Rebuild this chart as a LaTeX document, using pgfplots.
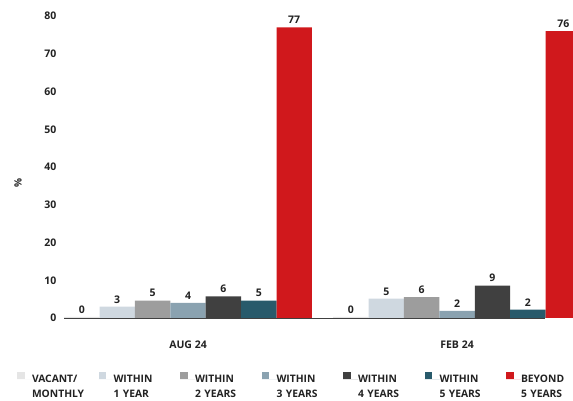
\documentclass[border=0pt]{standalone}
\usepackage{fontspec}
\setmainfont{Open Sans}
\usepackage{pgfplots}
\usepackage{pgfplotstable}
\pgfplotsset{compat=1.18}
\definecolor{cvac}{HTML}{E5E5E5}
\definecolor{cw1}{HTML}{CFD8E0}
\definecolor{cw2}{HTML}{9D9D9D}
\definecolor{cw3}{HTML}{8AA2B0}
\definecolor{cw4}{HTML}{404040}
\definecolor{cw5}{HTML}{285A6B}
\definecolor{cbey}{HTML}{D0181C}
\definecolor{ctxt}{HTML}{222222}
\pgfplotstableread{
x vac vacl w1 w1l w2 w2l w3 w3l w4 w4l w5 w5l bey beyl
0 0.3 0 3.0 3 4.6 5 4.0 4 5.7 6 4.6 5 77 77
1 0.3 0 5.1 5 5.5 6 1.9 2 8.6 9 2.2 2 76 76
}\datatable
\begin{document}
\begin{tikzpicture}[x=1pt,y=1pt]
\useasboundingbox (0,0) rectangle (573,401);
\begin{axis}[
  anchor=south west, at={(64pt,83pt)},
  scale only axis, width=509pt, height=302pt,
  xmin=-0.461, xmax=1.431, ymin=0, ymax=80,
  enlargelimits=false,
  clip=false,
  ybar=0pt, bar width=35.4pt,
  axis line style={draw=none},
  tick style={draw=none}, major tick length=0pt,
  xtick={0,1}, xticklabels={AUG 24, FEB 24},
  ytick={0,10,...,80},
  /pgf/number format/assume math mode=true,
  tick label style={font=\bfseries\fontsize{10.5}{12}\selectfont, text=ctxt},
  yticklabel style={xshift=-4.2pt},
  xticklabel style={yshift=-19pt},
  ylabel={\%},
  ylabel style={at={(axis description cs:-0.0904,0.447)}, anchor=center, font=\bfseries\fontsize{10}{12}\selectfont, text=ctxt},
  point meta=explicit symbolic,
  nodes near coords,
  nodes near coords style={font=\bfseries\fontsize{10.5}{12}\selectfont, text=ctxt},
  legend columns=7,
  legend style={at={(axis description cs:-0.0923,-0.1788)}, anchor=north west,
    draw=none, fill=none, inner sep=0pt, outer sep=0pt, column sep=0pt, row sep=0pt,
    font=\bfseries\fontsize{10.3}{15}\selectfont, text=ctxt,
    cells={anchor=west},
    nodes={inner sep=0pt, outer sep=0pt, align=left, text width=66.5pt}},
  legend image code/.code={\path[#1,draw=none] (0pt,-0.25pt) rectangle (7.5pt,7.25pt); \path (0pt,0pt) -- (15pt,0pt);},
]
\addplot[fill=cvac, draw=none] table[x=x, y=vac, meta=vacl] {\datatable};
\addplot[fill=cw1, draw=none] table[x=x, y=w1, meta=w1l] {\datatable};
\addplot[fill=cw2, draw=none] table[x=x, y=w2, meta=w2l] {\datatable};
\addplot[fill=cw3, draw=none] table[x=x, y=w3, meta=w3l] {\datatable};
\addplot[fill=cw4, draw=none] table[x=x, y=w4, meta=w4l] {\datatable};
\addplot[fill=cw5, draw=none] table[x=x, y=w5, meta=w5l] {\datatable};
\addplot[fill=cbey, draw=none] table[x=x, y=bey, meta=beyl] {\datatable};
\draw[cw4, line width=1.5pt] ([yshift=-0.6pt]axis cs:-0.461,0) -- ([yshift=-0.6pt]axis cs:1.327,0);
\legend{VACANT/\\MONTHLY, WITHIN\\1 YEAR, WITHIN\\2 YEARS, WITHIN\\3 YEARS, WITHIN\\4 YEARS, WITHIN\\5 YEARS, BEYOND\\5 YEARS}
\end{axis}
\end{tikzpicture}
\end{document}
